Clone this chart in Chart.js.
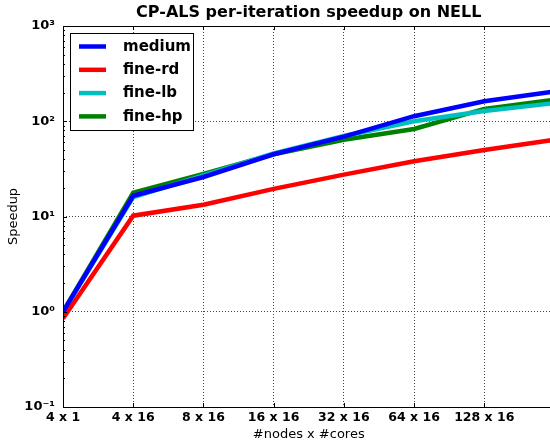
<!DOCTYPE html>
<html>
<head>
<meta charset="utf-8">
<script src="https://cdn.jsdelivr.net/npm/chart.js@4"></script>
<style>
  html, body { margin: 0; padding: 0; background: #fff; overflow: hidden; }
  #wrap { width: 560px; height: 442px; }
</style>
</head>
<body>
<div id="wrap"><canvas id="myChart" width="560" height="442"></canvas></div>
<script>
// x categories, the last one sits on the cropped right edge (label not shown)
const categories = ['4 x 1', '4 x 16', '8 x 16', '16 x 16', '32 x 16', '64 x 16', '128 x 16', '256 x 16']
const shownLabels = 7

// speedup per configuration
const medium = [1.0, 16.5, 26, 45, 69, 113, 162, 205]
const fineRd = [0.85, 10.2, 13.3, 19.5, 27.5, 38, 50, 64]
const fineLb = [1.0, 16, 27, 46, 70, 100, 128, 155]
const fineHp = [1.0, 17.8, 28, 45, 64, 83, 135, 168]

// y axis: decades with labels
const decades = [0.1, 1, 10, 100, 1000]
const decadeLabels = ['10⁻¹', '10⁰', '10¹', '10²', '10³']

Chart.defaults.font.family = 'DejaVu Sans'
Chart.defaults.color = '#000'

// all log ticks (1..9 per decade), only decades get labels / grid
let logTicks = []
for (let d = 0; d < decades.length - 1; d++) {
  for (let k = 1; k < 10; k++) logTicks.push(Number((decades[d] * k).toPrecision(3)))
}
logTicks.push(decades[decades.length - 1])

function isDecade(v) {
  return decades.indexOf(v) !== -1
}

// frame, inside tick marks and legend box drawn over the lines
const framePlugin = {
  id: 'frame',
  afterDatasetsDraw(chart) {
    const ctx = chart.ctx
    const a = chart.chartArea
    const yScale = chart.scales.y
    const xScale = chart.scales.x
    ctx.save()
    ctx.strokeStyle = '#000'
    ctx.lineWidth = 1
    ctx.beginPath()
    logTicks.forEach((v) => {
      const y = Math.round(yScale.getPixelForValue(v)) + 0.5
      const len = isDecade(v) ? 4 : 2
      ctx.moveTo(a.left, y)
      ctx.lineTo(a.left + len, y)
    })
    for (let i = 1; i < categories.length; i++) {
      const x = Math.round(xScale.getPixelForValue(i)) + 0.5
      ctx.moveTo(x, a.bottom)
      ctx.lineTo(x, a.bottom - 4)
      ctx.moveTo(x, a.top)
      ctx.lineTo(x, a.top + 4)
    }
    ctx.stroke()
    ctx.strokeRect(Math.round(a.left) + 0.5, Math.round(a.top) + 0.5,
      Math.round(a.right - a.left), Math.round(a.bottom - a.top))

    // legend
    const bx = Math.round(a.left) + 7.5, by = Math.round(a.top) + 7.5
    ctx.fillStyle = '#fff'
    ctx.fillRect(bx, by, 123, 97)
    ctx.strokeRect(bx, by, 123, 97)
    ctx.font = 'bold 15px "DejaVu Sans"'
    ctx.textBaseline = 'middle'
    chart.data.datasets.forEach((ds, i) => {
      const y = a.top + 20.5 + i * 23.3
      ctx.strokeStyle = ds.borderColor
      ctx.lineWidth = 4.5
      ctx.beginPath()
      ctx.moveTo(a.left + 16, y)
      ctx.lineTo(a.left + 43, y)
      ctx.stroke()
      ctx.fillStyle = '#000'
      ctx.fillText(ds.label, a.left + 60, y + 0.5)
    })
    ctx.restore()
  }
}

const lineStyle = {
  borderWidth: 4.5,
  pointRadius: 0,
  fill: false,
  tension: 0,
  clip: 0
}

const ctx = document.getElementById('myChart')
const myChart = new Chart(ctx, {
  type: 'line',
  data: {
    labels: categories,
    datasets: [
      { label: 'medium', data: medium, borderColor: '#0000ff', backgroundColor: '#0000ff', ...lineStyle },
      { label: 'fine-rd', data: fineRd, borderColor: '#ff0000', backgroundColor: '#ff0000', ...lineStyle },
      { label: 'fine-lb', data: fineLb, borderColor: '#00bfbf', backgroundColor: '#00bfbf', ...lineStyle },
      { label: 'fine-hp', data: fineHp, borderColor: '#008000', backgroundColor: '#008000', ...lineStyle }
    ]
  },
  options: {
    responsive: false,
    animation: false,
    layout: {
      padding: { left: 0, right: 5.5, top: 0, bottom: 0 }
    },
    scales: {
      x: {
        afterFit: function(scale) { scale.height = 35 },
        grid: {
          color: '#444',
          lineWidth: 1,
          drawTicks: false
        },
        border: { display: false, dash: [1, 2] },
        ticks: {
          autoSkip: false,
          maxRotation: 0,
          padding: 3,
          font: { size: 12.5, weight: 'bold' },
          callback: function(value, index) {
            return index < shownLabels ? categories[index] : ''
          }
        },
        title: {
          display: true,
          text: '#nodes x #cores',
          font: { size: 13 },
          padding: { top: 0, bottom: 0 }
        }
      },
      y: {
        type: 'logarithmic',
        min: 0.1,
        max: 1000,
        afterFit: function(scale) { scale.width = 63 },
        afterBuildTicks: function(scale) {
          scale.ticks = logTicks.map((v) => ({ value: v }))
        },
        grid: {
          color: function(c) {
            return c.tick && isDecade(c.tick.value) ? '#444' : 'rgba(0,0,0,0)'
          },
          lineWidth: 1,
          drawTicks: false
        },
        border: { display: false, dash: [1, 2] },
        ticks: {
          autoSkip: false,
          padding: 8,
          font: { size: 13, weight: 'bold' },
          callback: function(value) {
            const i = decades.indexOf(value)
            return i === -1 ? '' : decadeLabels[i]
          }
        },
        title: {
          display: true,
          text: 'Speedup',
          font: { size: 13 },
          padding: { top: 6, bottom: 0 }
        }
      }
    },
    plugins: {
      legend: { display: false },
      tooltip: { enabled: false },
      title: {
        display: true,
        text: 'CP-ALS per-iteration speedup on NELL',
        fullSize: false,
        font: { size: 16, weight: 'bold' },
        padding: { top: 3.2, bottom: 3.6 }
      }
    }
  },
  plugins: [framePlugin]
})
</script>
</body>
</html>
